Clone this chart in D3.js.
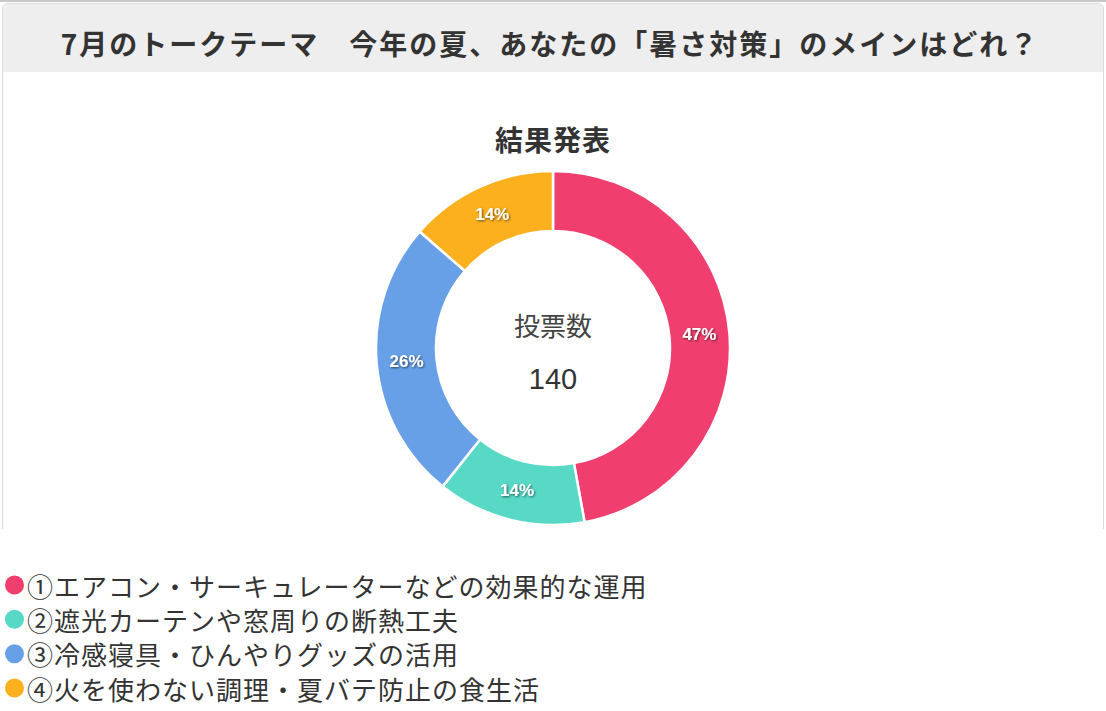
<!DOCTYPE html>
<html><head><meta charset="utf-8">
<script src="https://cdn.jsdelivr.net/npm/d3@7/dist/d3.min.js"></script>
<style>
html,body{margin:0;padding:0;background:#fff;}
svg{display:block;font-family:"Noto Sans CJK JP","Noto Sans",sans-serif;}
</style></head>
<body>
<svg id="c" width="1106" height="711"></svg>
<script>
const title = "7月のトークテーマ　今年の夏、あなたの「暑さ対策」のメインはどれ？";
const subtitle = "結果発表";
const centerLabel = "投票数";
const categories = ["①エアコン・サーキュレーターなどの効果的な運用","②遮光カーテンや窓周りの断熱工夫","③冷感寝具・ひんやりグッズの活用","④火を使わない調理・夏バテ防止の食生活"];
const votes = [66, 19, 36, 19];
const colors = ["#f03f6e","#57d9c5","#68a0e8","#fdb01e"];

const svg = d3.select("#c");
const W = 1106;
const defs = svg.append("defs");
const f = defs.append("filter").attr("id","sh").attr("x","-20%").attr("y","-40%").attr("width","140%").attr("height","180%");
f.append("feDropShadow").attr("dx",1).attr("dy",1).attr("stdDeviation",1.3).attr("flood-color","#000").attr("flood-opacity",0.6);

// page top line
svg.append("rect").attr("x",0).attr("y",0).attr("width",W).attr("height",2).attr("fill","#c8c8c8");
// card
const cardPath = "M2.5,529 L2.5,9 Q2.5,3.5 8,3.5 L1098,3.5 Q1103.5,3.5 1103.5,9 L1103.5,529";
svg.append("path").attr("d","M3,72 L3,9 Q3,4 8,4 L1098,4 Q1103,4 1103,9 L1103,72 Z").attr("fill","#eeeeee");
svg.append("path").attr("d",cardPath).attr("fill","none").attr("stroke","#dcdcdc").attr("stroke-width",1);

svg.append("text").attr("x",550).attr("y",55).attr("text-anchor","middle")
  .attr("font-size",28).attr("font-weight","bold").attr("fill","#333").attr("letter-spacing","2px").text(title);
svg.append("text").attr("x",553).attr("y",151).attr("text-anchor","middle")
  .attr("font-size",28).attr("font-weight","bold").attr("fill","#333").attr("letter-spacing","1px").text(subtitle);

const cx = 553, cy = 348, rO = 177, rI = 117;
const total = d3.sum(votes);
const pie = d3.pie().sort(null).value(d=>d);
const arc = d3.arc().innerRadius(rI).outerRadius(rO);
const lab = d3.arc().innerRadius((rI+rO)/2).outerRadius((rI+rO)/2);
const g = svg.append("g").attr("transform",`translate(${cx},${cy})`);
const arcs = pie(votes);
g.selectAll("path.s").data(arcs).join("path").attr("class","s")
  .attr("d",arc).attr("fill",(d,i)=>colors[i]).attr("stroke","#fff").attr("stroke-width",2.5);
g.selectAll("text.l").data(arcs).join("text").attr("class","l")
  .attr("transform",d=>`translate(${lab.centroid(d)})`)
  .attr("text-anchor","middle").attr("dominant-baseline","central")
  .attr("font-family","'Liberation Sans', Arial, sans-serif")
  .attr("font-size",17).attr("font-weight","bold").attr("fill","#fff").attr("filter","url(#sh)")
  .text(d=>Math.round(d.value/total*100)+"%");

g.append("text").attr("y",-24).attr("text-anchor","middle").attr("dominant-baseline","central")
  .attr("font-size",26).attr("fill","#444").text(centerLabel);
g.append("text").attr("y",31).attr("text-anchor","middle").attr("dominant-baseline","central")
  .attr("font-family","'Liberation Sans', Arial, sans-serif")
  .attr("font-size",29).attr("fill","#333").text(total);

const y = d3.scalePoint().domain(categories).range([585,688]);
const lg = svg.append("g");
lg.selectAll("circle").data(categories).join("circle")
  .attr("cx",14.5).attr("cy",d=>y(d)).attr("r",9.5).attr("fill",(d,i)=>colors[i]);
lg.selectAll("text").data(categories).join("text")
  .attr("x",27).attr("y",d=>y(d)).attr("dominant-baseline","central")
  .attr("font-size",26).attr("letter-spacing","1px").attr("fill","#333").text(d=>d);
</script>
</body></html>
